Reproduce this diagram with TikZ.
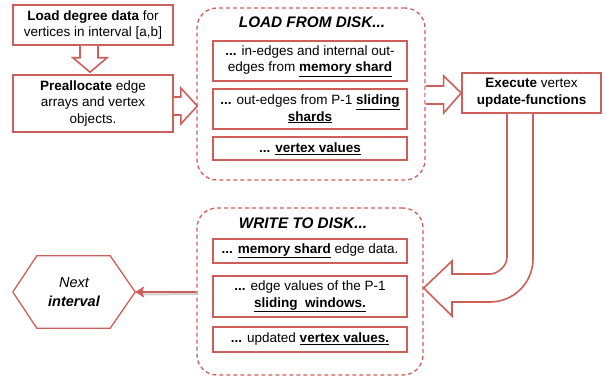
\documentclass[tikz,border=0pt]{standalone}
\usepackage{fontspec}
\setmainfont{Liberation Sans}
\usetikzlibrary{calc,arrows.meta}
\definecolor{rd}{RGB}{205,95,90}
\tikzset{
  box/.style={draw=rd, line width=1.6pt, fill=white, align=center, inner sep=1pt, font=\fontsize{13.5}{16.5}\selectfont},
  dbox/.style={draw=rd, line width=1.3pt, dash pattern=on 4pt off 3pt, rounded corners=20pt},
  ttl/.style={font=\fontsize{15.3}{17}\selectfont\bfseries\itshape},
  harrow/.style={draw=rd, line width=1.6pt, fill=white, line join=miter},
}
\newcommand{\ub}[1]{\underline{\textbf{#1}}}
\begin{document}
\begin{tikzpicture}[x=1pt,y=-1pt]
\useasboundingbox (0,0) rectangle (607,377);
% load box
\node[dbox, minimum width=228pt, minimum height=172pt] (lb) at (311,94) {};
\node[ttl] (lt) at (312,22) {LOAD FROM DISK...};
\node[box, minimum width=194pt, minimum height=40pt] (l1) at (310,61) {\textbf{...} in-edges and internal out-\\edges from \ub{memory shard}};
\node[box, minimum width=194pt, minimum height=40pt] (l2) at (310,109) {\textbf{...} out-edges from P-1 \ub{sliding}\\\ub{shards}};
\node[box, minimum width=194pt, minimum height=23pt] (l3) at (310,148.5) {\textbf{...} \ub{vertex values}};
% write box
\node[dbox, minimum width=226pt, minimum height=167pt] (wb) at (310,291.5) {};
\node[ttl] (wt) at (303,223) {WRITE TO DISK...};
\node[box, minimum width=194pt, minimum height=24pt] (w1) at (310,251) {\textbf{...} \ub{memory shard} edge data.};
\node[box, minimum width=194pt, minimum height=41pt] (w2) at (310,296.5) {\textbf{...} edge values of the P-1\\\ub{sliding\ \ windows.}};
\node[box, minimum width=194pt, minimum height=25pt] (w3) at (310,339.5) {\textbf{...} updated \ub{vertex values.}};
% left boxes
\node[box, minimum width=160pt, minimum height=40pt] (ld) at (93,25) {\textbf{Load degree data} for\\vertices in interval [a,b]};
\node[box, minimum width=160pt, minimum height=57pt] (pre) at (93,103.5) {\textbf{Preallocate} edge\\arrays and vertex\\objects.};
\node[box, minimum width=139pt, minimum height=40pt] (ex) at (531.5,93) {\textbf{Execute} vertex\\\textbf{update-functions}};
% next hexagon
\node[minimum width=122pt, minimum height=72pt, align=center, font=\fontsize{14.5}{19}\selectfont\itshape] (nx) at (74,292) {Next\\\textbf{interval}};
\draw[draw=rd, line width=1.3pt, line join=miter] (nx.west) -- ($(nx.north west)+(24,0)$) -- ($(nx.north east)+(-25,0)$) -- (nx.east) -- ($(nx.south east)+(-25,0)$) -- ($(nx.south west)+(24,0)$) -- cycle;
% hollow arrows
\draw[harrow] ($(ld.south)+(-13,0)$) -- ($(ld.south)+(-13,12)$) -- ($(ld.south)+(-20,12)$) -- ($(pre.north)+(-3,-2)$) -- ($(ld.south)+(14,12)$) -- ($(ld.south)+(5,12)$) -- ($(ld.south)+(5,0)$);
\draw[harrow] ($(pre.east)+(0,-6.5)$) -- ($(pre.east)+(7,-6.5)$) -- ($(pre.east)+(7,-15.5)$) -- ($(lb.west)+(1,12)$) -- ($(pre.east)+(7,20.5)$) -- ($(pre.east)+(7,11.5)$) -- ($(pre.east)+(0,11.5)$);
\draw[harrow] ($(lb.east)+(0,-8)$) -- ($(lb.east)+(18,-8)$) -- ($(lb.east)+(18,-18)$) -- (ex.west) -- ($(lb.east)+(18,19)$) -- ($(lb.east)+(18,10)$) -- ($(lb.east)+(0,10)$);
% big bent arrow
\draw[harrow] ($(ex.south)+(-24.5,0)$) -- (507,257) .. controls (507,266.4) and (497.4,274) .. (490,274) -- (452,274) -- (452,261) -- (wb.east |- 0,288) -- (452,316) -- (452,302) -- (490,302) .. controls (513.7,302) and (533,282.7) .. (533,259) -- ($(ex.south)+(1.5,0)$);
% arrow to next
\draw[gray!35, line width=2pt] ($(wb.west)+(0,2.5)$) -- ($(nx.east)+(6,2.5)$);
\draw[rd, line width=2pt, -{Stealth[length=9pt,width=11pt,inset=2pt]}] (wb.west |- 0,292) -- (nx.east);
\end{tikzpicture}
\end{document}
